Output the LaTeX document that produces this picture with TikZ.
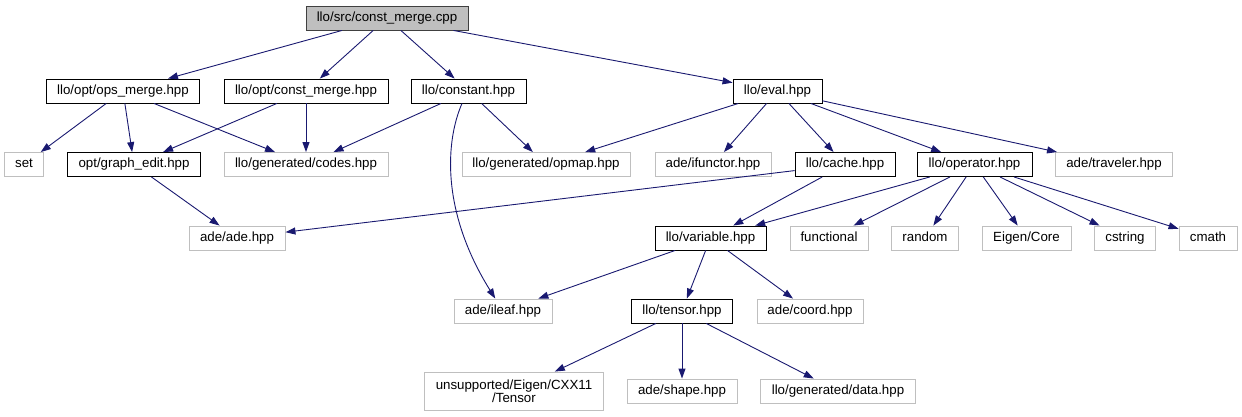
\documentclass[tikz,border=0pt]{standalone}
\usepackage{fontspec}
\setmainfont{Liberation Sans}
\usetikzlibrary{arrows.meta}
\definecolor{edgec}{HTML}{191970}
\definecolor{greyc}{HTML}{BFBFBF}
\definecolor{rootfill}{HTML}{BFBFBF}
\definecolor{rootline}{HTML}{404040}
\begin{document}
\begin{tikzpicture}[x=1pt,y=-1pt,
  box/.style={draw, line width=0.9pt, inner sep=0pt, font=\fontsize{13.3}{15}\selectfont},
  one/.style={box, minimum height=24pt, text height=9.8pt, text depth=3pt},
  doc/.style={one, draw=black},
  ext/.style={one, draw=greyc},
  rootnode/.style={one, draw=rootline, fill=rootfill},
  dep/.style={draw=edgec, line width=0.9pt, -{Triangle[length=10pt,width=7pt]}}]
\useasboundingbox (0,0) rectangle (1242,416);
% row 0
\node[rootnode, minimum width=162pt] (root) at (387,18) {llo/src/const\_merge.cpp};
% row 1
\node[doc, minimum width=153pt] (ops) at (123,91) {llo/opt/ops\_merge.hpp};
\node[doc, minimum width=164pt] (cmerge) at (306,91) {llo/opt/const\_merge.hpp};
\node[doc, minimum width=115pt] (constant) at (468.5,91) {llo/constant.hpp};
\node[doc, minimum width=89pt] (eval) at (777.5,91) {llo/eval.hpp};
% row 2
\node[ext, minimum width=39pt] (set) at (24,164.5) {set};
\node[doc, minimum width=133pt] (gedit) at (134,164.5) {opt/graph\_edit.hpp};
\node[ext, minimum width=164pt] (codes) at (306,164.5) {llo/generated/codes.hpp};
\node[ext, minimum width=168pt] (opmap) at (546,164.5) {llo/generated/opmap.hpp};
\node[ext, minimum width=116pt] (ifunctor) at (713,164.5) {ade/ifunctor.hpp};
\node[doc, minimum width=100pt] (cache) at (845,164.5) {llo/cache.hpp};
\node[doc, minimum width=115pt] (operator) at (974.5,164.5) {llo/operator.hpp};
\node[ext, minimum width=117pt] (traveler) at (1114,164.5) {ade/traveler.hpp};
% row 3
\node[ext, minimum width=96pt] (ade) at (237,238) {ade/ade.hpp};
\node[doc, minimum width=111pt] (variable) at (710.5,238) {llo/variable.hpp};
\node[ext, minimum width=78pt] (functional) at (829,238) {functional};
\node[ext, minimum width=67pt] (random) at (925,238) {random};
\node[ext, minimum width=89pt] (eigen) at (1026.5,238) {Eigen/Core};
\node[ext, minimum width=61pt] (cstring) at (1125,238) {cstring};
\node[ext, minimum width=58pt] (cmath) at (1208,238) {cmath};
% row 4
\node[ext, minimum width=98pt] (ileaf) at (503,311) {ade/ileaf.hpp};
\node[doc, minimum width=101pt] (tensor) at (682,311) {llo/tensor.hpp};
\node[ext, minimum width=106pt] (coord) at (810,311) {ade/coord.hpp};
% row 5
\node[box, draw=greyc, minimum width=179pt, minimum height=38pt, align=center] (unsup) at (514,391) {unsupported/Eigen/CXX11\\[-2pt]/Tensor};
\node[ext, minimum width=110pt] (shape) at (682,391) {ade/shape.hpp};
\node[ext, minimum width=155pt] (data) at (838,391) {llo/generated/data.hpp};
% edges
\draw[dep] (root) -- (ops);
\draw[dep] (root) -- (cmerge);
\draw[dep] (root) -- (constant);
\draw[dep] (root) -- (eval);
\draw[dep] (ops) -- (set);
\draw[dep] (ops) -- (gedit);
\draw[dep] (ops) -- (codes);
\draw[dep] (cmerge) -- (gedit);
\draw[dep] (cmerge) -- (codes);
\draw[dep] (constant) -- (codes);
\draw[dep] (constant) -- (opmap);
\draw[dep] ([xshift=-6.5pt]constant.south) .. controls (446,140) and (440,210) .. (ileaf);
\draw[dep] (eval) -- (opmap);
\draw[dep] (eval) -- (ifunctor);
\draw[dep] (eval) -- (cache);
\draw[dep] (eval) -- (operator);
\draw[dep] (eval) -- (traveler);
\draw[dep] (gedit) -- (ade);
\draw[dep] (cache) -- (ade);
\draw[dep] (cache) -- (variable);
\draw[dep] (operator) -- (variable);
\draw[dep] (operator) -- (functional);
\draw[dep] (operator) -- (random);
\draw[dep] (operator) -- (eigen);
\draw[dep] (operator) -- (cstring);
\draw[dep] (operator) -- (cmath);
\draw[dep] (variable) -- (ileaf);
\draw[dep] (variable) -- (tensor);
\draw[dep] (variable) -- (coord);
\draw[dep] (tensor) -- (unsup);
\draw[dep] (tensor) -- (shape);
\draw[dep] (tensor) -- (data);
\end{tikzpicture}
\end{document}
